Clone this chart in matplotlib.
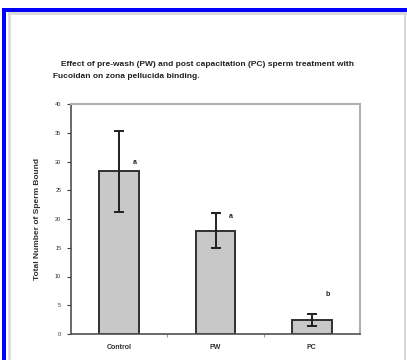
import matplotlib
matplotlib.use("Agg")
import matplotlib.pyplot as plt
from matplotlib.patches import Rectangle
from matplotlib.lines import Line2D

categories = ["Control", "PW", "PC"]
means = [28.3, 18.0, 2.4]
errors = [7.0, 3.0, 1.0]
letters = ["a", "a", "b"]
letter_y = [29.8, 20.5, 6.8]
yticks = [0, 5, 10, 15, 20, 25, 30, 35, 40]
title_lines = ["Effect of pre-wash (PW) and post capacitation (PC) sperm treatment with",
               "Fucoidan on zona pellucida binding."]
ylabel = "Total Number of Sperm Bound"

plt.rcParams['font.family'] = ['Liberation Sans', 'DejaVu Sans']

W, H = 407, 360
fig = plt.figure(figsize=(W / 100, H / 100), dpi=100)
fig.patch.set_facecolor("white")

def fx(px):
    return px / W

def fy(py):
    return 1 - py / H

# blue outer border
fig.add_artist(Rectangle((fx(2), 0), fx(4), fy(8), transform=fig.transFigure,
                         facecolor="#0000ff", edgecolor="none"))
fig.add_artist(Rectangle((fx(2), fy(11.5)), 1 - fx(2), 3.5 / H,
                         transform=fig.transFigure, facecolor="#0000ff", edgecolor="none"))
# light grey inner border
fig.add_artist(Line2D([fx(9), fx(9)], [0, fy(13)], transform=fig.transFigure,
                      color="#d8d8d8", lw=2))
fig.add_artist(Line2D([fx(9), fx(405)], [fy(13), fy(13)], transform=fig.transFigure,
                      color="#d8d8d8", lw=2))
fig.add_artist(Line2D([fx(405), fx(405)], [0, fy(13)], transform=fig.transFigure,
                      color="#d8d8d8", lw=1.5))

ax = fig.add_axes([fx(71), fy(334), fx(360) - fx(71), fy(104) - fy(334)])
x = list(range(len(categories)))
ax.bar(x, means, width=0.41, color="#c8c8c8", edgecolor="#303030", linewidth=1.4, zorder=2)
ax.errorbar(x, means, yerr=errors, fmt="none", ecolor="#202020", elinewidth=1.4,
            capsize=3.5, capthick=1.4, zorder=3)
for i, (lab, yy) in enumerate(zip(letters, letter_y)):
    ax.text(i + 0.16, yy, lab, fontsize=5, fontweight="bold", ha="center", va="center",
            color="#202020")

ax.set_xlim(-0.5, 2.5)
ax.set_ylim(0, 40)
ax.set_yticks(yticks)
ax.set_yticklabels([str(v) for v in yticks], fontsize=4, color="#303030")
ax.set_xticks(x)
ax.set_xticklabels(categories, fontsize=5, fontweight="bold", color="#303030")
ax.tick_params(axis="x", length=0, pad=7)
ax.tick_params(axis="y", length=3, width=0.8, color="#404040", pad=4)
ax.set_xticks([0.5, 1.5], minor=True)
ax.tick_params(axis="x", which="minor", length=2, color="#808080")
for s in ["top", "right"]:
    ax.spines[s].set_color("#b0b0b0")
    ax.spines[s].set_linewidth(1.5)
for s in ["left", "bottom"]:
    ax.spines[s].set_color("#505050")
    ax.spines[s].set_linewidth(1.2)
ax.set_ylabel(ylabel, fontsize=6, fontweight="bold", color="#303030", labelpad=10)

fig.text(fx(61), fy(65), title_lines[0], fontsize=6, fontweight="bold", ha="left",
         va="center", color="#202020")
fig.text(fx(53), fy(76), title_lines[1], fontsize=6, fontweight="bold", ha="left",
         va="center", color="#202020")

fig.savefig("out.png", dpi=100)
